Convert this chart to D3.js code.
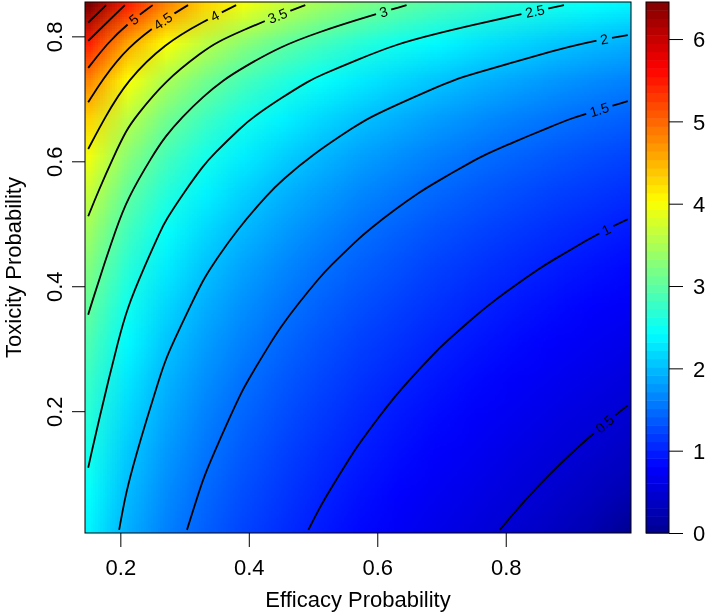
<!DOCTYPE html>
<html>
<head>
<meta charset="utf-8">
<script src="https://cdn.jsdelivr.net/npm/d3@7"></script>
<style>
  body { margin: 0; background: #fff; }
  #wrap { position: relative; width: 709px; height: 615px; }
  #wrap canvas, #wrap svg { position: absolute; left: 0; top: 0; }
  text { font-family: "Liberation Sans", Arial, Helvetica, sans-serif; fill: #000; }
</style>
</head>
<body>
<div id="wrap">
  <canvas id="heat" width="709" height="615"></canvas>
  <svg id="chart" width="709" height="615"></svg>
</div>
<script>
// grid
const efficacy = [0.15, 0.21, 0.27, 0.33, 0.39, 0.45, 0.51, 0.57, 0.63, 0.69, 0.75, 0.81, 0.87, 0.93, 0.99];
const toxicity = [0.01, 0.07, 0.13, 0.19, 0.25, 0.31, 0.37, 0.43, 0.49, 0.55, 0.61, 0.67, 0.73, 0.79, 0.85];
// one row per toxicity value (bottom to top), one column per efficacy value
const surface = [
  [2.350, 1.914, 1.622, 1.405, 1.232, 1.089, 0.964, 0.853, 0.751, 0.656, 0.563, 0.470, 0.371, 0.255, 0.040],
  [2.437, 1.990, 1.692, 1.471, 1.296, 1.151, 1.026, 0.915, 0.815, 0.722, 0.633, 0.546, 0.458, 0.365, 0.255],
  [2.533, 2.074, 1.769, 1.543, 1.365, 1.218, 1.092, 0.982, 0.882, 0.791, 0.705, 0.622, 0.540, 0.458, 0.371],
  [2.639, 2.167, 1.853, 1.622, 1.440, 1.291, 1.164, 1.053, 0.953, 0.863, 0.778, 0.699, 0.622, 0.546, 0.470],
  [2.757, 2.269, 1.946, 1.708, 1.523, 1.370, 1.241, 1.129, 1.030, 0.939, 0.857, 0.778, 0.705, 0.633, 0.563],
  [2.889, 2.384, 2.050, 1.805, 1.614, 1.459, 1.327, 1.214, 1.113, 1.022, 0.939, 0.863, 0.791, 0.722, 0.656],
  [3.039, 2.514, 2.167, 1.914, 1.717, 1.557, 1.422, 1.306, 1.204, 1.113, 1.030, 0.953, 0.882, 0.815, 0.751],
  [3.212, 2.662, 2.301, 2.037, 1.833, 1.668, 1.529, 1.410, 1.306, 1.214, 1.129, 1.053, 0.982, 0.915, 0.853],
  [3.412, 2.835, 2.456, 2.181, 1.968, 1.796, 1.652, 1.529, 1.422, 1.327, 1.241, 1.164, 1.092, 1.026, 0.964],
  [3.651, 3.039, 2.639, 2.350, 2.126, 1.946, 1.796, 1.668, 1.557, 1.459, 1.370, 1.291, 1.218, 1.151, 1.089],
  [3.941, 3.288, 2.862, 2.554, 2.317, 2.126, 1.968, 1.833, 1.717, 1.614, 1.523, 1.440, 1.365, 1.296, 1.232],
  [4.305, 3.599, 3.140, 2.808, 2.554, 2.350, 2.181, 2.037, 1.914, 1.805, 1.708, 1.622, 1.543, 1.471, 1.405],
  [4.782, 4.007, 3.502, 3.140, 2.862, 2.639, 2.456, 2.301, 2.167, 2.050, 1.946, 1.853, 1.769, 1.692, 1.622],
  [5.449, 4.574, 4.007, 3.599, 3.288, 3.039, 2.835, 2.662, 2.514, 2.384, 2.269, 2.167, 2.074, 1.990, 1.914],
  [6.477, 5.449, 4.782, 4.305, 3.941, 3.651, 3.412, 3.212, 3.039, 2.889, 2.757, 2.639, 2.533, 2.437, 2.350]
];
const contourLevels = [0.5, 1, 1.5, 2, 2.5, 3, 3.5, 4, 4.5, 5, 5.5, 6];
const xTicks = [0.2, 0.4, 0.6, 0.8];
const yTicks = [0.2, 0.4, 0.6, 0.8];
const legendTicks = [0, 1, 2, 3, 4, 5, 6];
const legendRange = [0, 6.45];

const W = 709, H = 615;
const plot = { left: 85, right: 631, top: 2, bottom: 533 };
const bar = { left: 646, right: 669 };
const nx = efficacy.length, ny = toxicity.length;
const stepX = efficacy[1] - efficacy[0];
const stepY = toxicity[1] - toxicity[0];

const x = d3.scaleLinear().domain([0.145, 0.995]).range([plot.left, plot.right]);
const y = d3.scaleLinear().domain([0.005, 0.855]).range([plot.bottom, plot.top]);
const z = d3.scaleLinear().domain(legendRange).range([plot.bottom, plot.top]);

// jet palette
const jetStops = [0, 1 / 8, 3 / 8, 5 / 8, 7 / 8, 1];
const color = d3.scaleLinear()
  .domain(jetStops.map(s => legendRange[0] + s * (legendRange[1] - legendRange[0])))
  .range(["#00008F", "#0000FF", "#00FFFF", "#FFFF00", "#FF0000", "#800000"])
  .clamp(true);

// Heat map: one pixel per grid cell, scaled up onto the plot
const small = document.createElement("canvas");
small.width = nx;
small.height = ny;
const sctx = small.getContext("2d");
const img = sctx.createImageData(nx, ny);
surface.forEach((row, k) => row.forEach((v, i) => {
  const c = d3.rgb(color(v));
  const o = ((ny - 1 - k) * nx + i) * 4;
  img.data[o] = c.r;
  img.data[o + 1] = c.g;
  img.data[o + 2] = c.b;
  img.data[o + 3] = 255;
}));
sctx.putImageData(img, 0, 0);

const ctx = document.getElementById("heat").getContext("2d");
ctx.save();
ctx.beginPath();
ctx.rect(plot.left, plot.top, plot.right - plot.left, plot.bottom - plot.top);
ctx.clip();
ctx.imageSmoothingEnabled = true;
const hx0 = x(efficacy[0] - stepX / 2), hx1 = x(efficacy[nx - 1] + stepX / 2);
const hy0 = y(toxicity[ny - 1] + stepY / 2), hy1 = y(toxicity[0] - stepY / 2);
ctx.drawImage(small, hx0, hy0, hx1 - hx0, hy1 - hy0);
ctx.restore();

const svg = d3.select("#chart");
const defs = svg.append("defs");
defs.append("clipPath").attr("id", "plotClip")
  .append("rect")
  .attr("x", plot.left).attr("y", plot.top)
  .attr("width", plot.right - plot.left).attr("height", plot.bottom - plot.top);
const mask = defs.append("mask").attr("id", "labelGaps")
  .attr("maskUnits", "userSpaceOnUse")
  .attr("x", 0).attr("y", 0).attr("width", W).attr("height", H);
mask.append("rect").attr("width", W).attr("height", H).attr("fill", "white");

// Contour lines
const contours = d3.contours().size([nx, ny]).thresholds(contourLevels)(surface.flat());
const gridX = c => x(efficacy[0] + (c - 0.5) * stepX);
const gridY = c => y(toxicity[0] + (c - 0.5) * stepY);
const onEdge = p => p[0] === 0 || p[0] === nx || p[1] === 0 || p[1] === ny;

// drop the pieces of each ring that run along the grid border
function openRuns(ring) {
  const pts = ring.slice(0, -1);
  const start = pts.findIndex(onEdge);
  if (start < 0) return [ring];
  const runs = [];
  let cur = [];
  for (let k = 1; k <= pts.length; k++) {
    const p = pts[(start + k) % pts.length];
    if (onEdge(p)) {
      if (cur.length > 1) runs.push(cur);
      cur = [];
    } else {
      cur.push(p);
    }
  }
  return runs;
}

// thin out vertices that sit almost on top of each other (they make kinks)
function thin(pts, minGap) {
  const out = [pts[0]];
  for (let k = 1; k < pts.length; k++) {
    const last = out[out.length - 1];
    const d = Math.hypot(pts[k][0] - last[0], pts[k][1] - last[1]);
    if (k === pts.length - 1) {
      if (d < minGap && out.length > 1) out[out.length - 1] = pts[k];
      else out.push(pts[k]);
    } else if (d >= minGap) {
      out.push(pts[k]);
    }
  }
  return out;
}

const lineGen = d3.line().curve(d3.curveBasis);
const linesG = svg.append("g").attr("clip-path", "url(#plotClip)")
  .append("g").attr("mask", "url(#labelGaps)");
const labelsG = svg.append("g");

contours.forEach(c => {
  c.coordinates.forEach(polygon => polygon.forEach(ring => {
    openRuns(ring).forEach(run => {
      let pts = run.map(p => [gridX(p[0]), gridY(p[1])]);
      const a = pts[0], b = pts[pts.length - 1];
      if (a[0] - a[1] > b[0] - b[1]) pts = pts.reverse(); // end near top / right
      pts = thin(pts, 10);

      const path = linesG.append("path")
        .attr("d", lineGen(pts))
        .attr("fill", "none")
        .attr("stroke", "#000")
        .attr("stroke-width", 1.8);

      const len = path.node().getTotalLength();
      if (len < 70) return;

      const label = labelsG.append("text")
        .attr("font-size", 14)
        .attr("text-anchor", "middle")
        .attr("dy", "0.35em")
        .text(String(c.value));
      const w = label.node().getComputedTextLength();
      const s = len - 20 - w / 2;
      const p = path.node().getPointAtLength(s);
      const p1 = path.node().getPointAtLength(s - 6);
      const p2 = path.node().getPointAtLength(s + 6);
      let ang = Math.atan2(p2.y - p1.y, p2.x - p1.x) * 180 / Math.PI;
      if (ang > 90) ang -= 180;
      if (ang < -90) ang += 180;
      const tr = `translate(${p.x},${p.y}) rotate(${ang})`;
      label.attr("transform", tr);
      mask.append("rect")
        .attr("x", -w / 2 - 4).attr("y", -8)
        .attr("width", w + 8).attr("height", 16)
        .attr("fill", "black")
        .attr("transform", tr);
    });
  }));
});

// Plot box
svg.append("rect")
  .attr("x", plot.left).attr("y", plot.top)
  .attr("width", plot.right - plot.left).attr("height", plot.bottom - plot.top)
  .attr("fill", "none").attr("stroke", "#000").attr("stroke-width", 1);

// Axes
const xAxis = svg.append("g")
  .attr("transform", `translate(0, ${plot.bottom})`)
  .call(d3.axisBottom(x).tickValues(xTicks).tickSize(14).tickFormat(d3.format(".1f")));
xAxis.select(".domain").remove();
xAxis.selectAll("line").attr("stroke", "#000");
xAxis.selectAll("text")
  .attr("y", 42).attr("dy", null)
  .attr("font-size", 22)
  .style("font-family", "Liberation Sans, Arial, sans-serif");

const yAxis = svg.append("g")
  .attr("transform", `translate(${plot.left}, 0)`)
  .call(d3.axisLeft(y).tickValues(yTicks).tickSize(13).tickFormat(d3.format(".1f")));
yAxis.select(".domain").remove();
yAxis.selectAll("line").attr("stroke", "#000");
yAxis.selectAll("text")
  .attr("transform", "rotate(-90)")
  .attr("x", 0).attr("y", -23).attr("dy", null)
  .attr("text-anchor", "middle")
  .attr("font-size", 22)
  .style("font-family", "Liberation Sans, Arial, sans-serif");

svg.append("text")
  .attr("x", (plot.left + plot.right) / 2).attr("y", 607)
  .attr("text-anchor", "middle")
  .attr("font-size", 22)
  .text("Efficacy Probability");

svg.append("text")
  .attr("transform", `translate(21, ${(plot.top + plot.bottom) / 2}) rotate(-90)`)
  .attr("text-anchor", "middle")
  .attr("font-size", 22)
  .text("Toxicity Probability");

// Colour bar
const nBands = 64;
const bandStep = (legendRange[1] - legendRange[0]) / nBands;
svg.append("g").selectAll("rect")
  .data(d3.range(nBands))
  .join("rect")
  .attr("x", bar.left)
  .attr("width", bar.right - bar.left)
  .attr("y", d => z(legendRange[0] + (d + 1) * bandStep))
  .attr("height", d => z(legendRange[0] + d * bandStep) - z(legendRange[0] + (d + 1) * bandStep) + 0.5)
  .attr("fill", d => color(legendRange[0] + (d + 0.5) * bandStep));

svg.append("rect")
  .attr("x", bar.left).attr("y", plot.top)
  .attr("width", bar.right - bar.left).attr("height", plot.bottom - plot.top)
  .attr("fill", "none").attr("stroke", "#000").attr("stroke-width", 1);

const zAxis = svg.append("g")
  .attr("transform", `translate(${bar.right}, 0)`)
  .call(d3.axisRight(z).tickValues(legendTicks).tickSize(14).tickFormat(d3.format("d")));
zAxis.select(".domain").remove();
zAxis.selectAll("line").attr("stroke", "#000");
zAxis.selectAll("text")
  .attr("x", 24).attr("dy", "0.36em")
  .attr("font-size", 22)
  .style("font-family", "Liberation Sans, Arial, sans-serif");
</script>
</body>
</html>
